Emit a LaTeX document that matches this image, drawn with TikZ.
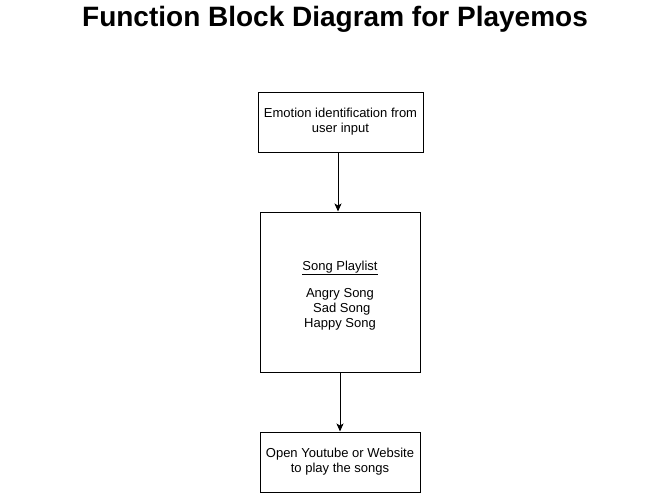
\documentclass[tikz,border=0pt]{standalone}
\usepackage{fontspec}
\setmainfont{Liberation Sans}
\usetikzlibrary{arrows.meta}
\begin{document}
\begin{tikzpicture}[x=1pt,y=-1pt,
  blockbox/.style={draw=black,line width=1pt,fill=white,inner sep=0pt,align=center,
    font=\fontsize{13}{15}\selectfont},
  conn/.style={draw=black,line width=1pt,-{Stealth[length=8pt,width=7pt,inset=2pt]}}]
\useasboundingbox (0,0) rectangle (671,493);
\node[font=\fontsize{28}{32}\selectfont\bfseries] (title) at (335,19) {Function Block Diagram for Playemos};
\node[blockbox,minimum width=165pt,minimum height=60pt] (b1) at (340.5,122) {Emotion identification from\\user input};
\node[blockbox,minimum width=160pt,minimum height=160pt] (b2) at (340,292) {};
\node[align=center,inner sep=0pt,font=\fontsize{13}{15}\selectfont] (b2text) at ([yshift=-3.5pt]b2.center) {\underline{Song Playlist}\\[12pt]Angry Song\\\hspace*{3.5pt}Sad Song\\Happy Song};
\node[blockbox,minimum width=160pt,minimum height=60pt] (b3) at (340,462) {Open Youtube or Website\\to play the songs};
\draw[conn] (b1.south -| 338,0) -- (b2.north -| 338,0);
\draw[conn] (b2.south) -- (b3.north);
\end{tikzpicture}
\end{document}
